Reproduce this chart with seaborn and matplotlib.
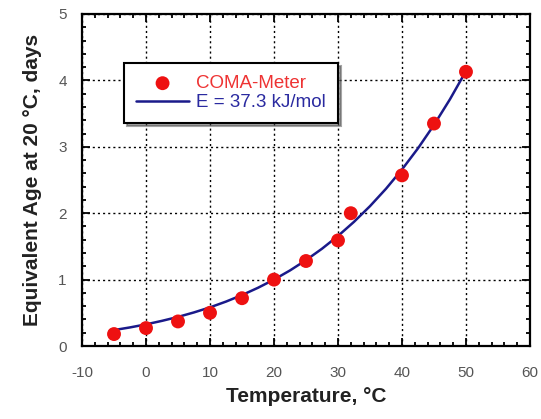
import numpy as np
import pandas as pd
import matplotlib
matplotlib.use("Agg")
import matplotlib.pyplot as plt
import seaborn as sns
from matplotlib.ticker import MultipleLocator

# measured points (COMA-Meter)
temp_meas = [-5, 0, 5, 10, 15, 20, 25, 30, 32, 40, 45, 50]
age_meas = [0.18, 0.27, 0.37, 0.50, 0.72, 1.00, 1.28, 1.59, 2.00, 2.57, 3.35, 4.13]

# fitted curve (E = 37.3 kJ/mol)
temp_fit = [-5, -2.5, 0, 2.5, 5, 7.5, 10, 12.5, 15, 17.5, 20, 22.5,
            25, 27.5, 30, 32.5, 35, 37.5, 40, 42.5, 45, 47.5, 50]
age_fit = [0.24, 0.28, 0.326, 0.379, 0.438, 0.506, 0.582, 0.669, 0.767, 0.877, 1.0, 1.138,
           1.293, 1.465, 1.657, 1.870, 2.106, 2.368, 2.658, 2.977, 3.329, 3.716, 4.141]

meas = pd.DataFrame({'temp': temp_meas, 'age': age_meas})
fit = pd.DataFrame({'temp': temp_fit, 'age': age_fit})

sns.set_style("ticks")
plt.rcParams['font.family'] = ['Liberation Sans', 'DejaVu Sans']
plt.rcParams['axes.unicode_minus'] = False

fig = plt.figure(figsize=(5.41, 4.19), dpi=100)
ax = fig.add_axes([0.1516, 0.1742, 0.828, 0.7924])

sns.lineplot(data=fit, x='temp', y='age', color='#1a1a8a', linewidth=1.8,
             label='E = 37.3 kJ/mol', ax=ax, zorder=3)
sns.scatterplot(data=meas, x='temp', y='age', color='#ee1111', s=100,
                edgecolor='none', label='COMA-Meter', ax=ax, zorder=4)

ax.set_xlim(-10, 60)
ax.set_ylim(0, 5)
ax.xaxis.set_major_locator(MultipleLocator(10))
ax.xaxis.set_minor_locator(MultipleLocator(2))
ax.yaxis.set_major_locator(MultipleLocator(1))
ax.yaxis.set_minor_locator(MultipleLocator(0.2))

ax.grid(True, which='major', color='black', linestyle=(0, (1.5, 2.2)), linewidth=1.0)
ax.tick_params(which='both', direction='in', top=True, right=True,
               colors='black', labelcolor='#555555', labelsize=11, width=1.3)
ax.tick_params(which='major', length=6)
ax.tick_params(which='minor', length=3)
ax.tick_params(axis='x', which='both', pad=14.5)
ax.tick_params(axis='y', which='both', pad=11)
for sp in ax.spines.values():
    sp.set_linewidth(1.6)
    sp.set_color('black')

ax.set_xlabel('Temperature, °C', fontsize=15, fontweight='bold', color='#222222', labelpad=5)
ax.set_ylabel('Equivalent Age at 20 °C, days', fontsize=15, fontweight='bold',
              color='#222222', labelpad=12)

handles, labels = ax.get_legend_handles_labels()
order = [labels.index('COMA-Meter'), labels.index('E = 37.3 kJ/mol')]
leg = ax.legend([handles[i] for i in order], [labels[i] for i in order],
                loc='upper left', bbox_to_anchor=(0.094, 0.853), borderaxespad=0,
                fontsize=13.5, frameon=True, fancybox=False, shadow=True,
                edgecolor='black', framealpha=1, handlelength=2.8,
                borderpad=0.65, labelspacing=0.1, handletextpad=0.4)
leg.get_frame().set_linewidth(1.5)
leg.set_zorder(10)
leg.get_texts()[0].set_color('#ee3333')
leg.get_texts()[1].set_color('#2a2aa0')

fig.savefig('out.png', dpi=100)
